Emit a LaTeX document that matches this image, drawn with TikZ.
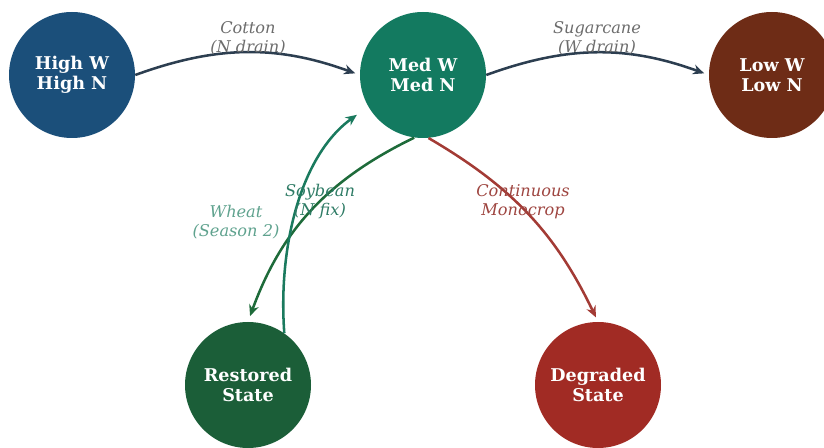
\documentclass[tikz,border=0pt]{standalone}
\usepackage{fontspec}
\setmainfont{DejaVu Serif}
\usetikzlibrary{arrows.meta}

\definecolor{highcol}{HTML}{1B4F7A}
\definecolor{medcol}{HTML}{137A60}
\definecolor{lowcol}{HTML}{6E2C16}
\definecolor{restcol}{HTML}{1B5E38}
\definecolor{degrcol}{HTML}{A12B24}
\definecolor{draincol}{HTML}{2C3E50}
\definecolor{soycol}{HTML}{1A7A5E}
\definecolor{wheatcol}{HTML}{1E6B3A}
\definecolor{monocol}{HTML}{A33B35}

\begin{document}
\begin{tikzpicture}[
	state/.style = {circle, minimum size = 3.15cm, inner sep = 0pt, text = white, align = center, font = \fontsize{12.5}{14}\selectfont\bfseries},
	crop/.style = {font = \fontsize{11.5}{13.5}\selectfont\itshape, align = center},
	flow/.style = {line width = 1.8pt, -{Stealth[length = 8pt, width = 7pt]}}
]
	\useasboundingbox (0, 0) rectangle (20.6, 11.2);

	\node [state, fill = highcol] (H) at (1.8, 9.325) {High W\\High N};
	\node [state, fill = medcol] (M) at (10.575, 9.325) {Med W\\Med N};
	\node [state, fill = lowcol] (L) at (19.3, 9.325) {Low W\\Low N};
	\node [state, fill = restcol] (R) at (6.2, 1.575) {Restored\\State};
	\node [state, fill = degrcol] (D) at (14.95, 1.575) {Degraded\\State};

	% rotations out of the medium state
	\draw [flow, draincol, shorten >= 0.12cm] (H.east) to [bend left = 20] (M.west);
	\draw [flow, draincol, shorten >= 0.12cm] (M.east) to [bend left = 20] (L.west);
	\draw [flow, wheatcol, shorten >= 0.15cm] (M.262) to [bend right = 22] (R.north);
	\draw [flow, monocol, shorten >= 0.12cm] (M.275) to [bend left = 17] (D.north);

	% recovery
	\draw [flow, soycol, shorten >= 0.35cm] (R.55) .. controls (6.95, 5.0) and (7.5, 7.3) .. (M.210);

	\node [crop, text = gray!85!black] (cotton) at (6.2, 10.25) {Cotton\\(N drain)};
	\node [crop, text = gray!85!black] (sugar) at (14.925, 10.25) {Sugarcane\\(W drain)};
	\node [crop, text = soycol!80!gray] (soy) at (8.0, 6.15) {Soybean\\(N fix)};
	\node [crop, text = soycol!70!white] (wheat) at (5.9, 5.65) {Wheat\\(Season 2)};
	\node [crop, text = monocol!85!gray] (mono) at (13.075, 6.15) {Continuous\\Monocrop};
\end{tikzpicture}
\end{document}
